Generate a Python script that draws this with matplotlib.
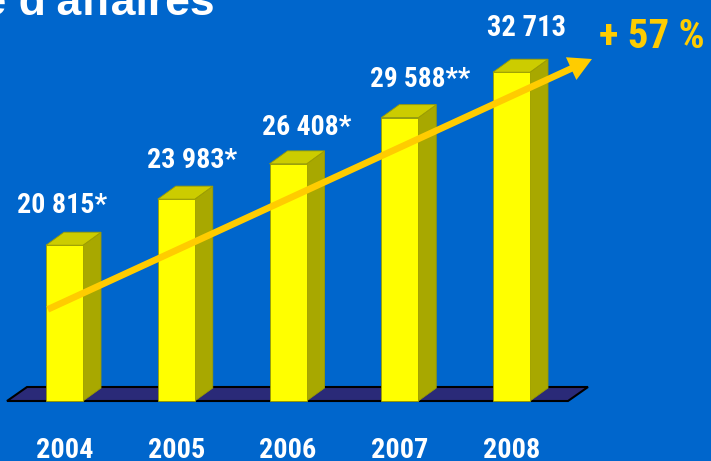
import matplotlib
matplotlib.use("Agg")
import matplotlib.pyplot as plt
from matplotlib import font_manager as fm
from matplotlib.font_manager import FontProperties
from matplotlib.patches import Polygon

# ---- data ----
years = ["2004", "2005", "2006", "2007", "2008"]
values = [20815, 23983, 26408, 29588, 32713]
value_labels = ["20 815*", "23 983*", "26 408*", "29 588**", "32 713"]
title = "Chiffre d'affaires"
growth_label = "+ 57 %"
arrow_start = (-0.15, 16400)
arrow_end = (4.72, 33620)

# ---- layout ----
W, H = 711, 461
px_per_idx = 111.75
x0_px = 64.5
base_px = 60
scale = 0.01454
B = 10100
label_off = [(-2, 32), (16, 31), (19, 29), (20, 31), (15, 36)]
label_width_px = [90, 90, 89, 100, 79]


def _w(f):
    try:
        return int(f.weight)
    except Exception:
        return {"bold": 700, "heavy": 800, "black": 900, "semibold": 600,
                "demibold": 600}.get(str(f.weight).lower(), 400)


bold_entries = [f for f in fm.fontManager.ttflist
                if 700 <= _w(f) <= 750 and f.style == "normal"]
chosen = None
for cand in ["Liberation Sans Narrow", "Arial Narrow", "Archivo Narrow", "Roboto Condensed",
             "PT Sans Narrow", "Fira Sans Condensed", "IBM Plex Sans Condensed",
             "Encode Sans Condensed", "Barlow Semi Condensed", "Open Sans Condensed"]:
    for f in bold_entries:
        if f.name == cand:
            chosen = f.fname
            break
    if chosen:
        break
if chosen is None:
    for f in bold_entries:
        n = f.name.lower()
        if ("narrow" in n or "condensed" in n) and "extra" not in n:
            chosen = f.fname
            break
if chosen:
    NARROW = FontProperties(fname=chosen)
else:
    NARROW = FontProperties(family="Liberation Sans", weight="bold")

BG = "#0066CC"
FRONT = "#FFFF00"
SIDE = "#A8A800"
TOP = "#CCCC00"
EDGE = "#9C9C00"
FLOOR = "#2A2A78"
ARROW = "#FFCC00"

fig = plt.figure(figsize=(W / 100, H / 100), dpi=100, facecolor=BG)
ax = fig.add_axes([0, 0, 1, 1])
ax.set_facecolor(BG)
ax.set_xlim(-x0_px / px_per_idx, (W - x0_px) / px_per_idx)
ax.set_ylim(B - base_px / scale, B + (H - base_px) / scale)
ax.axis("off")

bw = 37 / px_per_idx
dx = 18 / px_per_idx
dy = 13 / scale

fl, fr = -0.5145, 4.5056
fdx, fdy = 20 / px_per_idx, 14 / scale
ax.add_patch(Polygon([(fl, B), (fr, B), (fr + fdx, B + fdy), (fl + fdx, B + fdy)],
                     closed=True, facecolor=FLOOR, edgecolor="black", lw=1.5, zorder=1))

xs = list(range(len(values)))
ax.bar(xs, [v - B for v in values], bottom=B, width=bw, color=FRONT,
       edgecolor=EDGE, linewidth=0.6, zorder=3)
for x, v in zip(xs, values):
    r = x + bw / 2
    l = x - bw / 2
    ax.add_patch(Polygon([(r, B), (r + dx, B + dy), (r + dx, v + dy), (r, v)],
                         closed=True, facecolor=SIDE, edgecolor=EDGE, lw=0.6, zorder=2.9))
    ax.add_patch(Polygon([(l, v), (r, v), (r + dx, v + dy), (l + dx, v + dy)],
                         closed=True, facecolor=TOP, edgecolor=EDGE, lw=0.6, zorder=2.9))

ax.annotate("", xy=arrow_end, xytext=arrow_start,
            arrowprops=dict(arrowstyle="simple,head_length=1.1,head_width=1.2,tail_width=0.32",
                            mutation_scale=15, color=ARROW, shrinkA=0, shrinkB=0, lw=0),
            zorder=5)


def fp(size):
    p = NARROW.copy()
    p.set_size(size)
    return p


fitted = []
for x, v, t, (ox, oy), tw in zip(xs, values, value_labels, label_off, label_width_px):
    a = ax.annotate(t, xy=(x, v), xytext=(ox, oy), textcoords="offset pixels",
                    ha="center", va="baseline", color="white",
                    fontproperties=fp(22), zorder=6)
    fitted.append((a, tw))

for x, y in zip(xs, years):
    a = ax.annotate(y, xy=(x, B), xytext=(0, -57), textcoords="offset pixels",
                    ha="center", va="baseline", color="white",
                    fontproperties=fp(22), zorder=6)
    fitted.append((a, 57))

g = ax.annotate(growth_label, xy=arrow_end, xytext=(7, 11), textcoords="offset pixels",
                ha="left", va="baseline", color=ARROW,
                fontproperties=fp(28), zorder=6)
fitted.append((g, 106))

fig.text(215 / W, 1 - 15 / H, title, ha="right", va="baseline", color="white",
         fontsize=32, fontweight="bold", family="Liberation Sans")

renderer = fig.canvas.get_renderer()
for a, tw in fitted:
    w = a.get_window_extent(renderer).width
    if w > 0:
        s = a.get_fontsize()
        a.set_fontsize(max(min(s * tw / w, s * 1.25), s * 0.75))

fig.savefig("out.png", dpi=100, facecolor=BG)
